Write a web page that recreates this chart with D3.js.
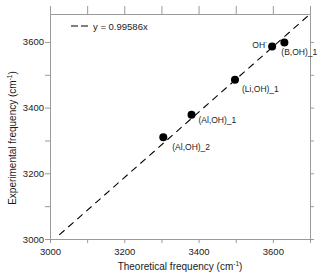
<!doctype html>
<html lang="en">
<head>
<meta charset="utf-8">
<title>Experimental vs theoretical frequency</title>
<script src="https://d3js.org/d3.v7.min.js"></script>
<style>
  body { margin: 0; background: #fff; }
  svg { font-family: "Liberation Sans", Arial, sans-serif; }
</style>
</head>
<body>
<svg id="chart" width="320" height="275"></svg>
<script>
// data
var names = ["(Al,OH)_2", "(Al,OH)_1", "(Li,OH)_1", "OH", "(B,OH)_1"];
var theo = [3305, 3381, 3498, 3598, 3631];
var expt = [3310, 3378, 3485, 3586, 3598];
var slope = 0.99586;
var fitX = [3025, 3700];
var xTicks = [3000, 3100, 3200, 3300, 3400, 3500, 3600, 3700];
var yTicks = [3000, 3100, 3200, 3300, 3400, 3500, 3600];
var xLabels = [3000, 3200, 3400, 3600];
var yLabels = [3000, 3200, 3400, 3600];

// plot box (note: "top" is taken by window.top)
var mLeft = 50, mRight = 310, mTop = 14, mBottom = 239;
var axisColor = "#9a9a9a", textColor = "#1a1a1a";

var svg = d3.select("#chart");
var x = d3.scaleLinear().domain([3000, 3700]).range([mLeft, mRight]);
var y = d3.scaleLinear().domain([3000, 3685]).range([mBottom, mTop]);

function styleAxis(g) {
    g.selectAll("path, line").attr("stroke", axisColor);
    g.selectAll("text").attr("fill", textColor).style("font-size", "9.5px");
}

svg.append("g")
    .attr("transform", "translate(0," + mBottom + ")")
    .call(d3.axisBottom(x).tickValues(xTicks).tickSize(4).tickSizeOuter(0)
        .tickFormat(function(d) { return xLabels.indexOf(d) >= 0 ? d : ""; }))
    .call(styleAxis)
    .selectAll("text").attr("dy", "0.95em");

svg.append("g")
    .attr("transform", "translate(0," + mTop + ")")
    .call(d3.axisTop(x).tickValues(xTicks).tickSize(8).tickSizeOuter(0).tickFormat(""))
    .call(styleAxis);

svg.append("g")
    .attr("transform", "translate(" + mLeft + ",0)")
    .call(d3.axisLeft(y).tickValues(yTicks).tickSize(5).tickSizeOuter(0)
        .tickFormat(function(d) { return yLabels.indexOf(d) >= 0 ? d : ""; }))
    .call(styleAxis)
    .selectAll("text").attr("x", -6);

svg.append("g")
    .attr("transform", "translate(" + mRight + ",0)")
    .call(d3.axisRight(y).tickValues(yTicks).tickSize(4).tickSizeOuter(0).tickFormat(""))
    .call(styleAxis);

// fit line
svg.append("line")
    .attr("x1", x(fitX[0])).attr("y1", y(slope * fitX[0]))
    .attr("x2", x(fitX[1])).attr("y2", y(slope * fitX[1]))
    .attr("stroke", "#000").attr("stroke-width", 1.1)
    .attr("stroke-dasharray", "7,5");

// points
svg.append("g").selectAll("circle")
    .data(theo)
    .enter()
    .append("circle")
    .attr("cx", function(d) { return x(d); })
    .attr("cy", function(d, i) { return y(expt[i]); })
    .attr("r", 4)
    .attr("fill", "#000");

// point labels
var offs = [[9, 13], [7, 8], [7, 12], [-5, 1], [-3, 12]];
var labels = svg.append("g").style("font-size", "8.5px").attr("fill", textColor);
names.forEach(function(n, i) {
    var t = labels.append("text")
        .attr("x", x(theo[i]) + offs[i][0])
        .attr("y", y(expt[i]) + offs[i][1]);
    if (n == "OH") {
        t.attr("text-anchor", "end").text("OH");
        t.append("tspan").attr("dy", -4).style("font-size", "6px").text("-");
    } else {
        t.text(n);
    }
});

// legend
svg.append("line")
    .attr("x1", 71).attr("x2", 88).attr("y1", 26).attr("y2", 26)
    .attr("stroke", "#000").attr("stroke-width", 1.1)
    .attr("stroke-dasharray", "7,3");
svg.append("text")
    .attr("x", 93).attr("y", 29.5)
    .style("font-size", "9.5px").attr("fill", textColor)
    .text("y = " + slope + "x");

// axis titles
var xt = svg.append("text")
    .attr("x", (mLeft + mRight) / 2).attr("y", 270)
    .attr("text-anchor", "middle")
    .style("font-size", "10px").attr("fill", textColor)
    .text("Theoretical frequency (cm");
xt.append("tspan").attr("dy", -4).style("font-size", "6.5px").text("-1");
xt.append("tspan").attr("dy", 4).text(")");

var yt = svg.append("text")
    .attr("transform", "translate(16," + 138 + ") rotate(-90)")
    .attr("text-anchor", "middle")
    .style("font-size", "10px").attr("fill", textColor)
    .text("Experimental frequency (cm");
yt.append("tspan").attr("dy", -4).style("font-size", "6.5px").text("-1");
yt.append("tspan").attr("dy", 4).text(")");
</script>
</body>
</html>
